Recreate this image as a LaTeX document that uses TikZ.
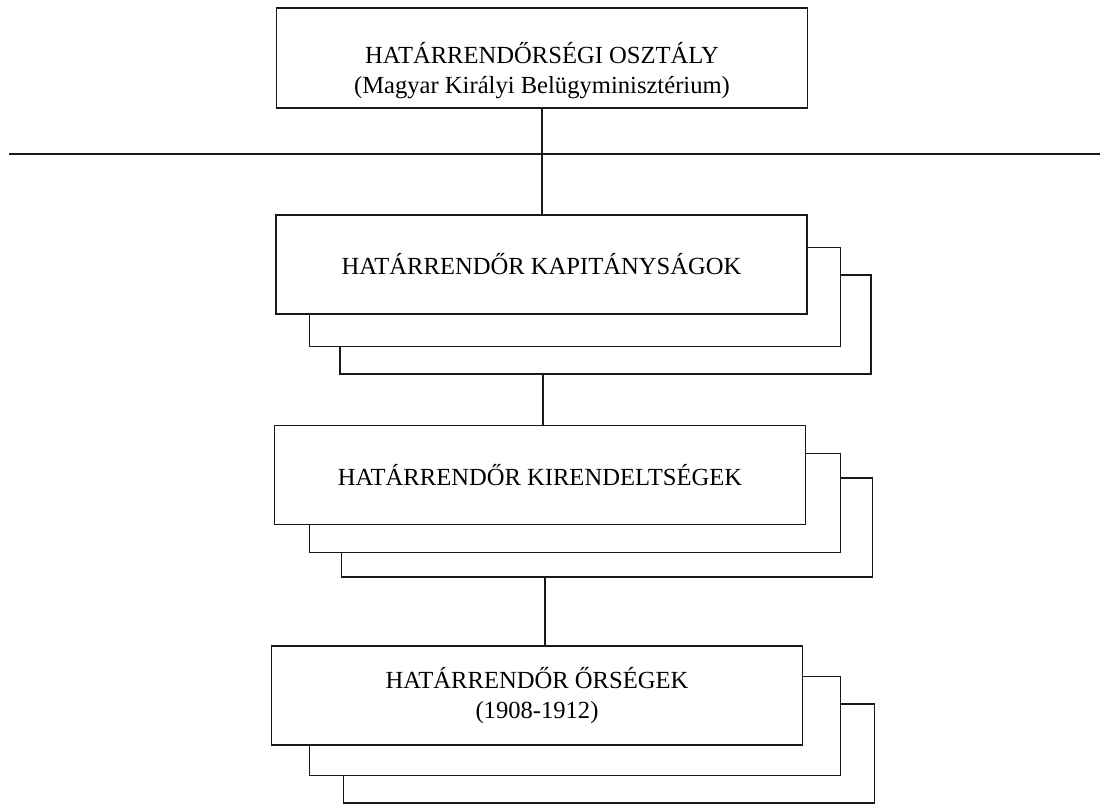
\documentclass[tikz,border=0pt]{standalone}
\usepackage{fontspec}
\setmainfont{Liberation Serif}
\usetikzlibrary{calc}

\begin{document}
\begin{tikzpicture}[x=0.5pt,y=-0.5pt,
    box/.style={draw=black!90,fill=white,line width=0.8pt,minimum width=265.5pt,
      minimum height=49.5pt,inner sep=0pt,align=center,
      font=\fontsize{12.3}{15}\selectfont},
    link/.style={draw=black!90,line width=0.8pt}]
  \useasboundingbox (0,0) rectangle (1100,804);
  % top box
  \node[box,minimum height=0pt,text height=43pt,text depth=7pt,anchor=north] (osztaly) at (542,7)
    {\begin{tabular}[b]{@{}c@{}}HATÁRRENDŐRSÉGI OSZTÁLY\\(Magyar Királyi Belügyminisztérium)\end{tabular}};
  % horizontal line
  \coordinate (hl) at (9,154);
  \coordinate (hr) at (1100,154);
  \draw[link] (hl) -- (hr);
  % kapitanysagok (stacked)
  \node[box] (kap3) at (605.5,324.5) {};
  \node[box] (kap2) at (575,297) {};
  \node[box] (kap) at (541.5,264.5) {HATÁRRENDŐR KAPITÁNYSÁGOK};
  % kirendeltsegek (stacked)
  \node[box] (kir3) at (607,527.5) {};
  \node[box] (kir2) at (575,503) {};
  \node[box] (kir) at (540,475) {HATÁRRENDŐR KIRENDELTSÉGEK};
  % orsegek (stacked)
  \node[box] (ors3) at (609,753.5) {};
  \node[box] (ors2) at (575,726) {};
  \node[box] (ors) at (537,695.5) {HATÁRRENDŐR ŐRSÉGEK\\(1908-1912)};
  % vertical lines
  \draw[link] (osztaly.south) -- (osztaly.south |- kap.north);
  \draw[link] ([xshift=-31.25pt]kap3.south) -- ([xshift=-31.25pt]kap3.south |- kir.north);
  \draw[link] ([xshift=-31pt]kir3.south) -- ([xshift=-31pt]kir3.south |- ors.north);
\end{tikzpicture}
\end{document}
